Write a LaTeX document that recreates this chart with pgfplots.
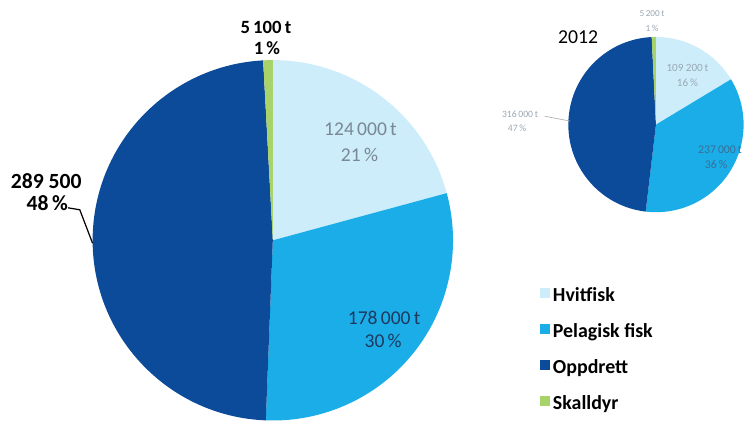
\documentclass[border=0pt]{standalone}
\usepackage{fontspec}
\setmainfont{Carlito}
\usepackage{pgfplots}
\usepackage{pgfplotstable}
\pgfplotsset{compat=1.18}
\definecolor{hvit}{HTML}{CDEDFA}
\definecolor{pel}{HTML}{1AADE8}
\definecolor{opp}{HTML}{0C4A9A}
\definecolor{skal}{HTML}{A8D26A}
\definecolor{lblgray}{HTML}{7A8794}
\definecolor{lblnavy}{HTML}{1F3A5E}
\definecolor{smgray}{HTML}{9AA7B4}
\definecolor{smblue}{HTML}{3A6F97}

% values in 1000 tonnes
\pgfplotstableread{
cat kt col
Hvitfisk 124.0 hvit
Pelagisk 178.0 pel
Oppdrett 289.5 opp
Skalldyr 5.1 skal
}\tabA
\pgfplotstableread{
cat kt col
Hvitfisk 109.2 hvit
Pelagisk 237.0 pel
Oppdrett 316.0 opp
Skalldyr 5.2 skal
}\tabB

% #1 table, #2 cx, #3 cy (axis units = px), #4 radius (cm)
\newcommand{\drawpie}[4]{%
\pgfplotsextra{%
 \pgfplotstablegetrowsof{#1}\pgfmathtruncatemacro{\nlast}{\pgfplotsretval-1}%
 \gdef\pietotal{0}%
 \foreach \i in {0,...,\nlast}{%
   \pgfplotstablegetelem{\i}{kt}\of{#1}%
   \pgfmathsetmacro{\tmp}{\pietotal+\pgfplotsretval}%
   \xdef\pietotal{\tmp}%
 }%
 \gdef\pieangle{90}%
 \foreach \i in {0,...,\nlast}{%
   \pgfplotstablegetelem{\i}{kt}\of{#1}%
   \pgfmathsetmacro{\endang}{\pieangle-\pgfplotsretval/\pietotal*360}%
   \pgfplotstablegetelem{\i}{col}\of{#1}%
   \edef\piecol{\pgfplotsretval}%
   \fill[\piecol] (axis cs:#2,#3) -- ++(\pieangle:#4) arc[start angle=\pieangle, end angle=\endang, radius=#4] -- cycle;
   \xdef\pieangle{\endang}%
 }%
}}

\begin{document}
\begin{tikzpicture}
\begin{axis}[
  x=0.02cm, y=0.02cm,
  xmin=0, xmax=756, ymin=0, ymax=428,
  hide axis, clip=false,
  legend style={at={(axis cs:548,136)}, anchor=north west, draw=none, fill=none,
    inner sep=0pt, font=\fontsize{11.5}{13}\selectfont\bfseries, row sep=0.36cm,
    nodes={inner sep=0pt, text height=0.28cm, text depth=0.09cm},
    cells={anchor=west}},
  legend image code/.code={\fill[#1] (0cm,-0.01cm) rectangle (0.18cm,0.17cm);},
]
\path (axis cs:0,0) rectangle (axis cs:756,428);
\drawpie{\tabA}{277}{184}{3.66cm}
\drawpie{\tabB}{666}{301.5}{1.78cm}

\addlegendimage{hvit}\addlegendentry{\,Hvitfisk}
\addlegendimage{pel}\addlegendentry{\,Pelagisk fisk}
\addlegendimage{opp}\addlegendentry{\,Oppdrett}
\addlegendimage{skal}\addlegendentry{\,Skalldyr}

% big pie labels
\node[font=\fontsize{10.8}{12}\selectfont\bfseries] at (axis cs:270,400) {5\,100\,t};
\node[font=\fontsize{10.8}{12}\selectfont\bfseries] at (axis cs:271,379) {1\,\%};
\node[font=\fontsize{12.5}{14}\selectfont\bfseries] at (axis cs:47,244) {289 500};
\node[font=\fontsize{12.5}{14}\selectfont\bfseries] at (axis cs:48,222) {48\,\%};
\draw[black, line width=0.7pt] (axis cs:69,217) -- (axis cs:81,215) -- (axis cs:94,181);
\node[font=\fontsize{11.3}{13}\selectfont, text=lblgray] at (axis cs:366,297) {124\,000\,t};
\node[font=\fontsize{11.3}{13}\selectfont, text=lblgray] at (axis cs:365,271) {21\,\%};
\node[font=\fontsize{11.3}{13}\selectfont, text=lblnavy] at (axis cs:390,105) {178\,000\,t};
\node[font=\fontsize{11.3}{13}\selectfont, text=lblnavy] at (axis cs:389,82) {30\,\%};

% small pie labels
\node[font=\fontsize{11.4}{13}\selectfont] at (axis cs:587,390) {2012};
\node[font=\fontsize{5.3}{6}\selectfont, text=smgray] at (axis cs:662,414) {5\,200\,t};
\node[font=\fontsize{5.3}{6}\selectfont, text=smgray] at (axis cs:662,399) {1\,\%};
\node[font=\fontsize{6.4}{7}\selectfont, text=smgray] at (axis cs:698,358.5) {109 200\,t};
\node[font=\fontsize{6.4}{7}\selectfont, text=smgray] at (axis cs:698,344) {16\,\%};
\node[font=\fontsize{6.8}{8}\selectfont, text=smblue] at (axis cs:731,276) {237\,000\,t};
\node[font=\fontsize{6.8}{8}\selectfont, text=smblue] at (axis cs:727,261) {36\,\%};
\node[font=\fontsize{5.6}{6}\selectfont, text=smgray] at (axis cs:528,311.5) {316\,000\,t};
\node[font=\fontsize{5.6}{6}\selectfont, text=smgray] at (axis cs:525,298) {47\,\%};
\draw[gray!60, line width=0.4pt] (axis cs:553,310) -- (axis cs:579,305);
\end{axis}
\end{tikzpicture}
\end{document}
